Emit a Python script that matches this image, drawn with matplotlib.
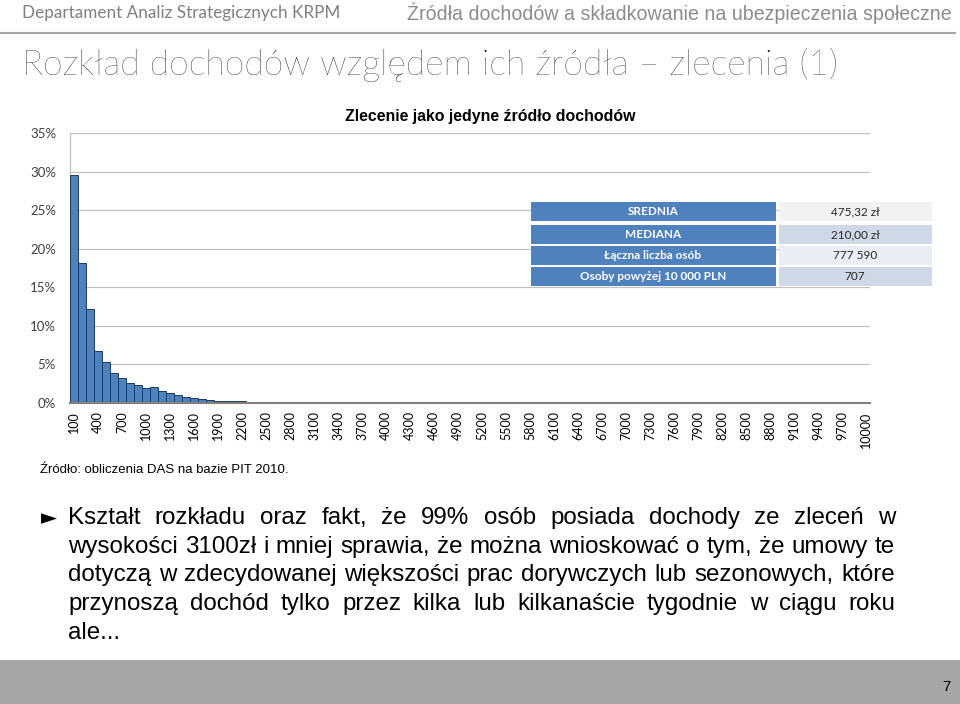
import matplotlib
matplotlib.use("Agg")
import matplotlib.pyplot as plt
from matplotlib.patches import Rectangle

# ---------------- data ----------------
income_bins = list(range(100, 10001, 100))
share_pct = [
    29.5, 18.1, 12.2, 6.8, 5.35, 3.95, 3.2, 2.6, 2.27, 2.0,
    2.1, 1.6, 1.26, 1.0, 0.83, 0.65, 0.57, 0.42, 0.32, 0.27,
    0.23, 0.21, 0.19, 0.16, 0.14, 0.12, 0.08, 0.06, 0.05, 0.05,
    0.04, 0.04, 0.03, 0.03, 0.03, 0.03, 0.02, 0.02, 0.02, 0.02,
    0.02, 0.02, 0.01, 0.01, 0.01, 0.01, 0.01, 0.01, 0.01, 0.01,
    0.01, 0.01, 0.01, 0.01, 0.01, 0.01, 0.01, 0.01, 0.01, 0.01,
    0.01, 0.01, 0.01, 0.01, 0.01, 0.01, 0.01, 0.01, 0.01, 0.01,
    0.01, 0.01, 0.01, 0.01, 0.01, 0.01, 0.01, 0.01, 0.01, 0.01,
    0.01, 0.01, 0.01, 0.01, 0.01, 0.01, 0.01, 0.01, 0.01, 0.01,
    0.01, 0.01, 0.01, 0.01, 0.01, 0.01, 0.01, 0.01, 0.01, 0.01,
]
y_ticks = [0, 5, 10, 15, 20, 25, 30, 35]
table_labels = ["SREDNIA", "MEDIANA", "Łączna liczba osób", "Osoby powyżej 10 000 PLN"]
table_values = ["475,32 zł", "210,00 zł", "777 590", "707"]

body_lines = [
    "Kształt rozkładu oraz fakt, że 99% osób posiada dochody ze zleceń w",
    "wysokości 3100zł i mniej sprawia, że można wnioskować o tym, że umowy te",
    "dotyczą w zdecydowanej większości prac dorywczych lub sezonowych, które",
    "przynoszą dochód tylko przez kilka lub kilkanaście tygodnie w ciągu roku",
    "ale...",
]

W, H = 960, 704
fig = plt.figure(figsize=(W / 100, H / 100), dpi=100)
fig.patch.set_facecolor("white")
renderer = fig.canvas.get_renderer()

def fx(px):
    return px / W

def fy(py):
    return 1 - py / H

def fit(t, target_w):
    w = t.get_window_extent(renderer).width
    t.set_fontsize(t.get_fontsize() * target_w / w)

calib = "Lato"
arial = "Liberation Sans"

# ---------------- header ----------------
t = fig.text(fx(22), fy(13), "Departament Analiz Strategicznych KRPM", family=calib,
             fontsize=12, color="#7f7f7f", va="center", ha="left")
fit(t, 316)
t = fig.text(fx(952), fy(13), "Źródła dochodów a składkowanie na ubezpieczenia społeczne",
             family=arial, fontsize=13, color="#8c8c8c", va="center", ha="right")
fit(t, 542)
fig.add_artist(plt.Line2D([fx(0), fx(955)], [fy(33), fy(33)], color="#a6a6a6", lw=1.5))
t = fig.text(fx(22), fy(65), "Rozkład dochodów względem ich źródła – zlecenia (1)", family=calib,
             fontweight="light", fontsize=24, color="#000000", va="center", ha="left")
fit(t, 816)

# ---------------- chart ----------------
ax = fig.add_axes([fx(70), fy(403), fx(870) - fx(70), fy(133) - fy(403)])
x = list(range(len(income_bins)))
ax.bar(x, share_pct, width=1.0, color="#4f81bd", edgecolor="#1f3a5f", linewidth=0.7, zorder=3)
ax.set_xlim(-0.5, len(income_bins) - 0.5)
ax.set_ylim(0, 35)
ax.set_yticks(y_ticks)
ax.set_yticklabels([f"{v}%" for v in y_ticks], family=calib, fontsize=9.5, color="#404040")
tick_idx = x[::3]
ax.set_xticks(tick_idx)
ax.set_xticklabels([str(income_bins[i]) for i in tick_idx], rotation=90, family=calib,
                   fontsize=9, color="#000000")
ax.tick_params(axis="y", length=0, pad=10)
ax.tick_params(axis="x", length=0, pad=6)
ax.grid(axis="y", color="#c0c0c0", lw=0.9, zorder=0)
for s in ["top", "right"]:
    ax.spines[s].set_visible(False)
ax.spines["left"].set_color("#c0c0c0")
ax.spines["left"].set_linewidth(0.9)
ax.spines["bottom"].set_color("#808080")
ax.spines["bottom"].set_linewidth(1.5)
ax.spines["bottom"].set_zorder(4)

t = fig.text(fx(490), fy(116), "Zlecenie jako jedyne źródło dochodów", family=arial,
             fontweight="bold", fontsize=10.5, color="#000000", ha="center", va="center")
fit(t, 292)

# ---------------- table ----------------
rows_y = [(202, 221), (225, 244), (246, 265), (267, 286)]
right_colors = ["#f2f2f2", "#d0d8e8", "#e9edf4", "#d0d8e8"]
for (y0, y1), lab, val, rc in zip(rows_y, table_labels, table_values, right_colors):
    fig.add_artist(Rectangle((fx(531), fy(y1)), fx(776) - fx(531), fy(y0) - fy(y1),
                             transform=fig.transFigure, facecolor="#4f81bd", edgecolor="none", zorder=5))
    fig.add_artist(Rectangle((fx(779), fy(y1)), fx(932) - fx(779), fy(y0) - fy(y1),
                             transform=fig.transFigure, facecolor=rc, edgecolor="none", zorder=5))
    fig.text(fx(653), fy((y0 + y1) / 2), lab, family=calib, fontweight="bold", fontsize=8.5,
             color="white", ha="center", va="center", zorder=6)
    fig.text(fx(855), fy((y0 + y1) / 2), val, family=calib, fontsize=8.5,
             color="#262626", ha="center", va="center", zorder=6)

# ---------------- source ----------------
t = fig.text(fx(40), fy(470), "Źródło: obliczenia DAS na bazie PIT 2010.", family=arial,
             fontsize=8.5, color="#000000", ha="left", va="center")
fit(t, 250)

# ---------------- body text (justified) ----------------
fig.text(fx(41), fy(518), "►", family="DejaVu Sans", fontsize=15, color="#000000",
         ha="left", va="center")
left_px, right_px = 68, 895
line_y = [518, 547, 575, 604, 633]
# choose size so that the widest line with normal spaces just fits
probe_size = 10.0
widest = 0
for line in body_lines:
    p = fig.text(0, 0, line, family=arial, fontsize=probe_size)
    widest = max(widest, p.get_window_extent(renderer).width)
    p.remove()
body_size = min(probe_size * (right_px - left_px - 4) / widest, 17.5)

for i, (line, yy) in enumerate(zip(body_lines, line_y)):
    words = line.split(" ")
    objs = [fig.text(0, fy(yy), w, family=arial, fontsize=body_size, color="#000000",
                     ha="left", va="center") for w in words]
    widths = [o.get_window_extent(renderer).width for o in objs]
    if i < len(body_lines) - 1 and len(words) > 1:
        gap = (right_px - left_px - sum(widths)) / (len(words) - 1)
    else:
        gap = 5
    cur = left_px
    for o, wdt in zip(objs, widths):
        o.set_x(fx(cur))
        cur += wdt + gap

# ---------------- footer ----------------
fig.add_artist(Rectangle((0, 0), 1, fy(660), transform=fig.transFigure,
                         facecolor="#a6a6a6", edgecolor="none", zorder=1))
fig.text(fx(946), fy(687), "7", family=arial, fontsize=11, color="#000000",
         ha="center", va="center", zorder=2)

fig.savefig("out.png", dpi=100, facecolor="white")
